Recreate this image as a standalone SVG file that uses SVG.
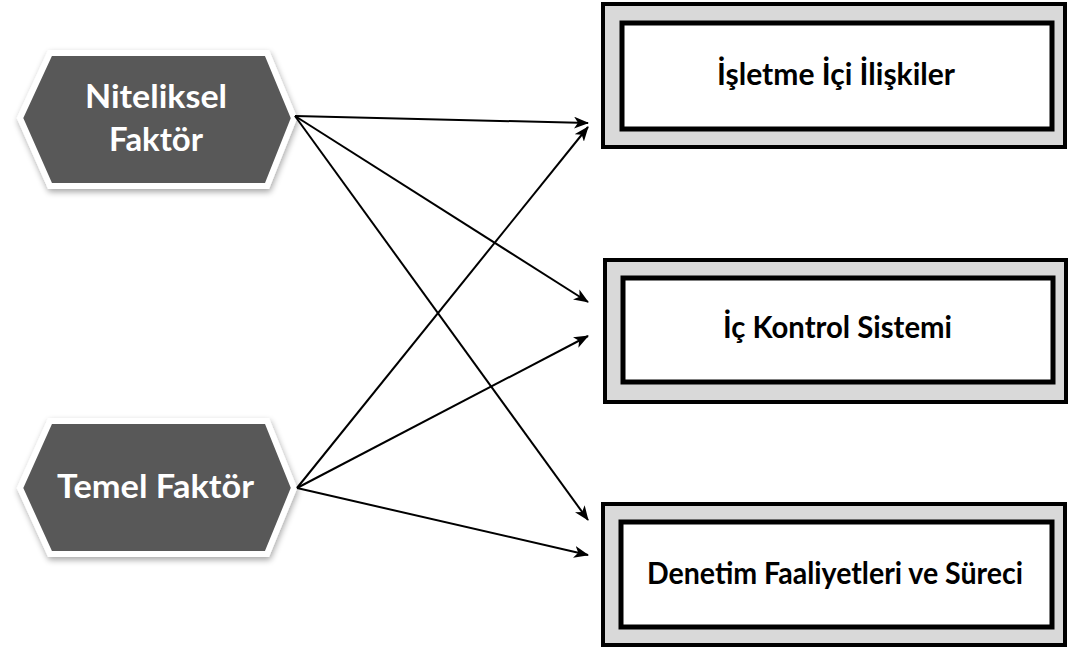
<svg xmlns="http://www.w3.org/2000/svg" width="1071" height="649" viewBox="0 0 1071 649">
<style>
.hex{fill:#595959;stroke:#fff;stroke-width:6;stroke-linejoin:miter}
.ht{font-family:Lato,"Liberation Sans",sans-serif;font-weight:bold;font-size:33px;fill:#fff}
.outer{fill:#d9d9d9;stroke:#000;stroke-width:4}
.inner{fill:#fff;stroke:#000;stroke-width:5}
.bt{font-family:Lato,"Liberation Sans",sans-serif;font-weight:bold;font-size:30px;fill:#000}
.c{stroke:#000;stroke-width:2;fill:none;marker-end:url(#ah)}
</style>
<defs>
<filter id="sh" x="-20%" y="-20%" width="140%" height="150%">
<feGaussianBlur in="SourceAlpha" stdDeviation="3"/>
<feOffset dx="1" dy="3" result="b"/>
<feComponentTransfer><feFuncA type="linear" slope="0.35"/></feComponentTransfer>
<feMerge><feMergeNode/><feMergeNode in="SourceGraphic"/></feMerge>
</filter>
<marker id="ah" markerWidth="16" markerHeight="12" refX="14" refY="6" orient="auto" markerUnits="userSpaceOnUse">
<path d="M0,0 L15,6 L0,12 L4,6 Z" fill="#000"/>
</marker>
</defs>
<g id="n1">
<polygon class="hex" filter="url(#sh)" points="20,118 50,53 267,53 294,118 267,186 50,186"/>
<text class="ht" x="85" y="108" textLength="142" lengthAdjust="spacingAndGlyphs">Niteliksel</text>
<text class="ht" x="109" y="151" textLength="94" lengthAdjust="spacingAndGlyphs">Faktör</text>
</g>
<g id="n2">
<polygon class="hex" filter="url(#sh)" points="20,488 50,421 267,421 294,488 267,554 50,554"/>
<text class="ht" x="57" y="498" textLength="197" lengthAdjust="spacingAndGlyphs">Temel Faktör</text>
</g>
<g id="b1">
<rect class="outer" x="603" y="4" width="462" height="143"/>
<rect class="inner" x="622" y="23" width="430" height="106"/>
<text class="bt" x="717" y="85" textLength="238" lengthAdjust="spacingAndGlyphs">İşletme İçi İlişkiler</text>
</g>
<g id="b2">
<rect class="outer" x="605" y="260" width="461" height="142"/>
<rect class="inner" x="623" y="278" width="430" height="104"/>
<text class="bt" x="723" y="338" textLength="229" lengthAdjust="spacingAndGlyphs">İç Kontrol Sistemi</text>
</g>
<g id="b3">
<rect class="outer" x="603" y="504" width="462" height="141"/>
<rect class="inner" x="621" y="522" width="431" height="105"/>
<text class="bt" x="647" y="584" textLength="376" lengthAdjust="spacingAndGlyphs">Denetim Faaliyetleri ve Süreci</text>
</g>
<g id="connectors">
<line class="c" x1="295" y1="116" x2="588" y2="123"/>
<line class="c" x1="295" y1="116" x2="588" y2="302"/>
<line class="c" x1="295" y1="116" x2="588" y2="520"/>
<line class="c" x1="297" y1="488" x2="588" y2="127"/>
<line class="c" x1="297" y1="488" x2="588" y2="336"/>
<line class="c" x1="297" y1="488" x2="588" y2="555"/>
</g>
</svg>
